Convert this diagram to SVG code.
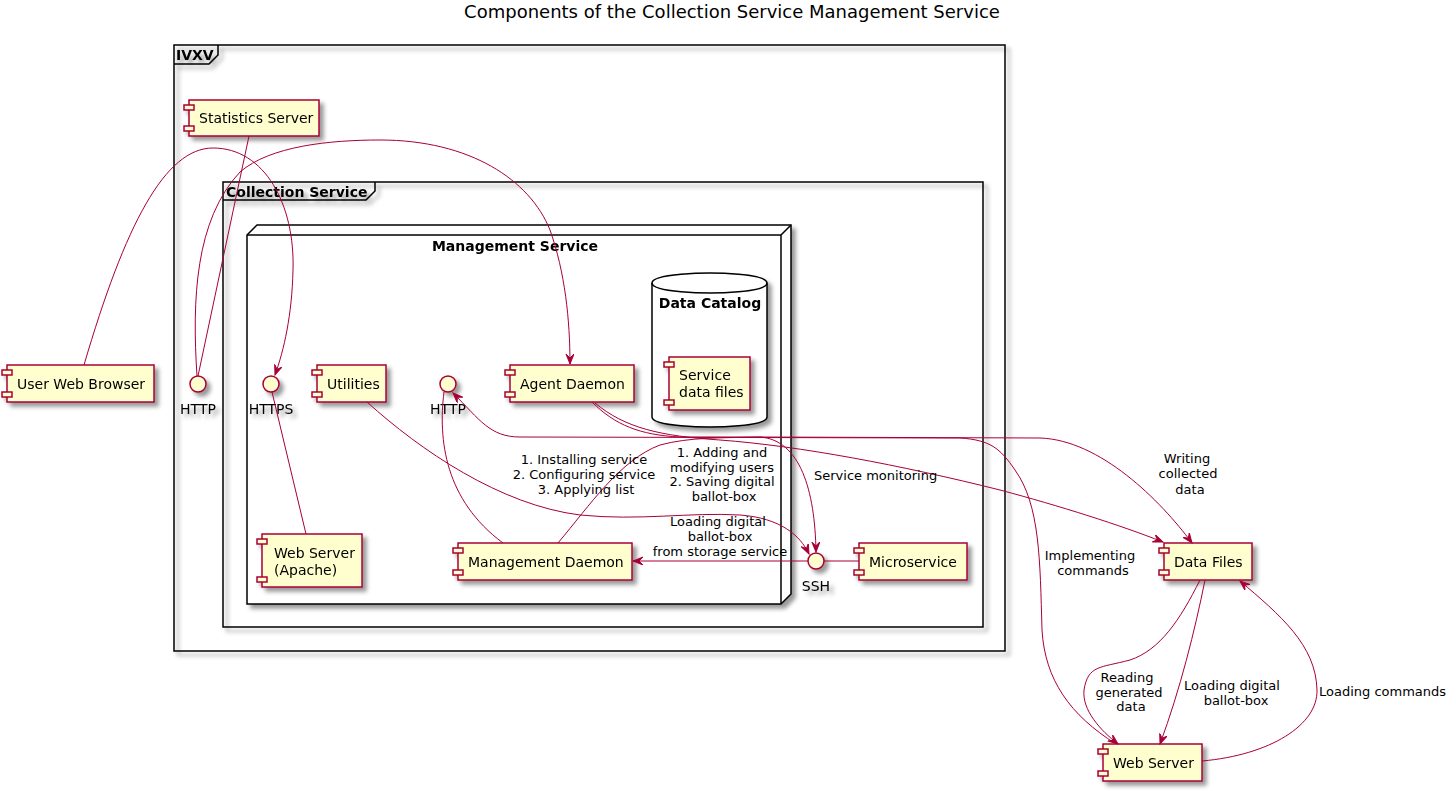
<svg xmlns="http://www.w3.org/2000/svg" width="1456" height="791" viewBox="0 0 1456 791">
<defs>
<filter id="sh" x="-1" y="-1" width="300%" height="300%">
<feGaussianBlur result="b1" stdDeviation="2"/>
<feColorMatrix in="b1" result="b2" type="matrix" values="0 0 0 0 0 0 0 0 0 0 0 0 0 0 0 0 0 0 .4 0"/>
<feOffset dx="4" dy="4" in="b2" result="b3"/>
<feBlend in="SourceGraphic" in2="b3" mode="normal"/>
</filter>
<marker id="ah" markerUnits="userSpaceOnUse" markerWidth="12" markerHeight="10" refX="10" refY="4" orient="auto" viewBox="0 0 12 10">
<path d="M0,0 L10,4 L0,8 L4,4 Z" fill="#A80036" stroke="#A80036" stroke-width="1"/>
</marker>
</defs>
<style>
.frame{fill:none;stroke:#000;stroke-width:1.5}
.comp{fill:#FEFECE;stroke:#A80036;stroke-width:1.5}
.ifc{fill:#FEFECE;stroke:#A80036;stroke-width:1.5}
.t14{font-family:"DejaVu Sans",sans-serif;font-size:14px;fill:#000}
.b14{font-family:"DejaVu Sans",sans-serif;font-size:14px;font-weight:bold;fill:#000}
.t13{font-family:"DejaVu Sans",sans-serif;font-size:13px;fill:#000}
.mid{text-anchor:middle}
.edge{fill:none;stroke:#A80036;stroke-width:1}
.arr{marker-end:url(#ah)}
</style>
<rect width="1456" height="791" fill="#fff"/>
<text x="732" y="18" class="mid" style="font-family:'DejaVu Sans',sans-serif;font-size:18px">Components of the Collection Service Management Service</text>

<g id="frame-ivxv" filter="url(#sh)">
<rect x="174" y="45" width="831" height="606" class="frame"/>
<path d="M174,64 L209,64 L218,55 L218,45" class="frame"/>
<text x="176" y="60" class="b14">IVXV</text>
</g>
<g id="frame-collection" filter="url(#sh)">
<rect x="223" y="182" width="760" height="445" class="frame"/>
<path d="M223,200 L366,200 L375,191 L375,182" class="frame"/>
<text x="226" y="197" class="b14">Collection Service</text>
</g>
<g id="node-management-service" filter="url(#sh)">
<path d="M247,235 L257,225 L791,225 L791,594 L781,604 L247,604 Z" fill="#fff" stroke="#000" stroke-width="1.5"/>
<path d="M781,235 L791,225 M247,235 L781,235 L781,604" fill="none" stroke="#000" stroke-width="1.5"/>
<text x="515" y="251" class="b14 mid">Management Service</text>
</g>
<g id="node-data-catalog" filter="url(#sh)">
<path d="M652,283 C652,273 710,273 710,273 C710,273 767,273 767,283 L767,417 C767,427 710,427 710,427 C710,427 652,427 652,417 Z" fill="#fff" stroke="#000" stroke-width="1.5"/>
<path d="M652,283 C652,293 710,293 710,293 C710,293 767,293 767,283" fill="none" stroke="#000" stroke-width="1.5"/>
<text x="710" y="308" class="b14 mid">Data Catalog</text>
</g>

<g id="node-statistics-server" filter="url(#sh)">
<rect x="189" y="100" width="130" height="36" class="comp"/>
<rect x="184" y="105" width="10" height="5" class="comp"/>
<rect x="184" y="126" width="10" height="5" class="comp"/>
<text x="199" y="123" class="t14">Statistics Server</text>
</g>
<g id="node-user-web-browser" filter="url(#sh)">
<rect x="7" y="365" width="147" height="37" class="comp"/>
<rect x="2" y="370" width="10" height="5" class="comp"/>
<rect x="2" y="392" width="10" height="5" class="comp"/>
<text x="17" y="389" class="t14">User Web Browser</text>
</g>
<g id="node-http-outer" filter="url(#sh)">
<circle cx="198" cy="384" r="8" class="ifc"/>
<text x="198" y="414" class="t14 mid">HTTP</text>
</g>
<g id="node-https" filter="url(#sh)">
<circle cx="271" cy="384" r="8" class="ifc"/>
<text x="271" y="414" class="t14 mid">HTTPS</text>
</g>
<g id="node-utilities" filter="url(#sh)">
<rect x="317" y="365" width="69" height="37" class="comp"/>
<rect x="312" y="370" width="10" height="5" class="comp"/>
<rect x="312" y="392" width="10" height="5" class="comp"/>
<text x="327" y="389" class="t14">Utilities</text>
</g>
<g id="node-http-inner" filter="url(#sh)">
<circle cx="448" cy="384" r="8" class="ifc"/>
<text x="448" y="414" class="t14 mid">HTTP</text>
</g>
<g id="node-agent-daemon" filter="url(#sh)">
<rect x="510" y="365" width="124" height="37" class="comp"/>
<rect x="505" y="370" width="10" height="5" class="comp"/>
<rect x="505" y="392" width="10" height="5" class="comp"/>
<text x="520" y="389" class="t14">Agent Daemon</text>
</g>
<g id="node-service-data-files" filter="url(#sh)">
<rect x="669" y="357" width="81" height="53" class="comp"/>
<rect x="664" y="362" width="10" height="5" class="comp"/>
<rect x="664" y="400" width="10" height="5" class="comp"/>
<text x="679" y="380" class="t14">Service</text>
<text x="679" y="397" class="t14">data files</text>
</g>
<g id="node-web-server-apache" filter="url(#sh)">
<rect x="262" y="534" width="100" height="53" class="comp"/>
<rect x="257" y="539" width="10" height="5" class="comp"/>
<rect x="257" y="577" width="10" height="5" class="comp"/>
<text x="274" y="558" class="t14">Web Server</text>
<text x="274" y="575" class="t14">(Apache)</text>
</g>
<g id="node-management-daemon" filter="url(#sh)">
<rect x="458" y="543" width="174" height="37" class="comp"/>
<rect x="453" y="548" width="10" height="5" class="comp"/>
<rect x="453" y="570" width="10" height="5" class="comp"/>
<text x="468" y="567" class="t14">Management Daemon</text>
</g>
<g id="node-ssh" filter="url(#sh)">
<circle cx="816" cy="561" r="8" class="ifc"/>
<text x="816" y="591" class="t14 mid">SSH</text>
</g>
<g id="node-microservice" filter="url(#sh)">
<rect x="859" y="543" width="108" height="37" class="comp"/>
<rect x="854" y="548" width="10" height="5" class="comp"/>
<rect x="854" y="570" width="10" height="5" class="comp"/>
<text x="869" y="567" class="t14">Microservice</text>
</g>
<g id="node-data-files" filter="url(#sh)">
<rect x="1164" y="543" width="88" height="37" class="comp"/>
<rect x="1159" y="548" width="10" height="5" class="comp"/>
<rect x="1159" y="570" width="10" height="5" class="comp"/>
<text x="1174" y="567" class="t14">Data Files</text>
</g>
<g id="node-web-server" filter="url(#sh)">
<rect x="1103" y="744" width="99" height="37" class="comp"/>
<rect x="1098" y="749" width="10" height="5" class="comp"/>
<rect x="1098" y="771" width="10" height="5" class="comp"/>
<text x="1113" y="768" class="t14">Web Server</text>
</g>

<g id="connectors">
<path class="edge arr" d="M84,365 C125,225 165,148 213,148 C265,148 295,205 293,270 C292,315 284,350 275,375"/>
<path class="edge" d="M198,376 L249,136"/>
<path class="edge arr" d="M197,376 C192,300 195,220 240,172 C270,146 330,140 380,140 C470,140 530,180 550,230 C565,272 570,320 570,364"/>
<path class="edge" d="M272,392 L306,534"/>
<path class="edge arr" d="M367,402 C420,450 500,505 580,515 C640,521 690,512 740,515 C780,518 800,535 809,554"/>
<path class="edge" d="M444,392 C438,440 445,500 503,543"/>
<path class="edge arr" d="M558,543 C590,505 620,460 660,445 C690,437 720,438 760,437 L1040,438 C1100,440 1160,500 1192,543"/>
<path class="edge arr" d="M1116,744 C1070,715 1045,680 1042,630 C1040,560 1040,505 1015,470 C1000,448 990,440 960,438 L520,437 C490,437 480,420 453,393"/>
<path class="edge arr" d="M592,402 C615,425 640,435 680,437 L760,437 C800,440 815,490 816,552"/>
<path class="edge arr" d="M595,403 C625,428 660,436 720,440 C800,446 900,465 1000,490 C1060,506 1120,525 1163,542"/>
<path class="edge arr" d="M808,561 L633,561"/>
<path class="edge" d="M824,561 L859,561"/>
<path class="edge arr" d="M1200,580 C1180,620 1160,650 1130,660 C1100,668 1088,665 1084,690 C1082,710 1100,730 1118,744"/>
<path class="edge arr" d="M1205,580 C1195,630 1180,690 1160,744"/>
<path class="edge arr" d="M1202,761 C1270,755 1318,725 1317,690 C1316,645 1280,615 1240,581"/>

<text class="t13 mid" x="584" y="464">1. Installing service</text>
<text class="t13 mid" x="584" y="479">2. Configuring service</text>
<text class="t13 mid" x="586" y="494">3. Applying list</text>
<text class="t13 mid" x="722" y="457">1. Adding and</text>
<text class="t13 mid" x="722" y="472">modifying users</text>
<text class="t13 mid" x="722" y="486">2. Saving digital</text>
<text class="t13 mid" x="724" y="501">ballot-box</text>
<text class="t13 mid" x="718" y="526">Loading digital</text>
<text class="t13 mid" x="720" y="541">ballot-box</text>
<text class="t13 mid" x="720" y="556">from storage service</text>
<text class="t13" x="814" y="480">Service monitoring</text>
<text class="t13 mid" x="1187" y="463">Writing</text>
<text class="t13 mid" x="1188" y="478">collected</text>
<text class="t13 mid" x="1190" y="494">data</text>
<text class="t13 mid" x="1090" y="560">Implementing</text>
<text class="t13 mid" x="1093" y="575">commands</text>
<text class="t13 mid" x="1127" y="682">Reading</text>
<text class="t13 mid" x="1129" y="697">generated</text>
<text class="t13 mid" x="1131" y="711">data</text>
<text class="t13 mid" x="1232" y="690">Loading digital</text>
<text class="t13 mid" x="1236" y="705">ballot-box</text>
<text class="t13" x="1319" y="696">Loading commands</text>
</g>
</svg>
